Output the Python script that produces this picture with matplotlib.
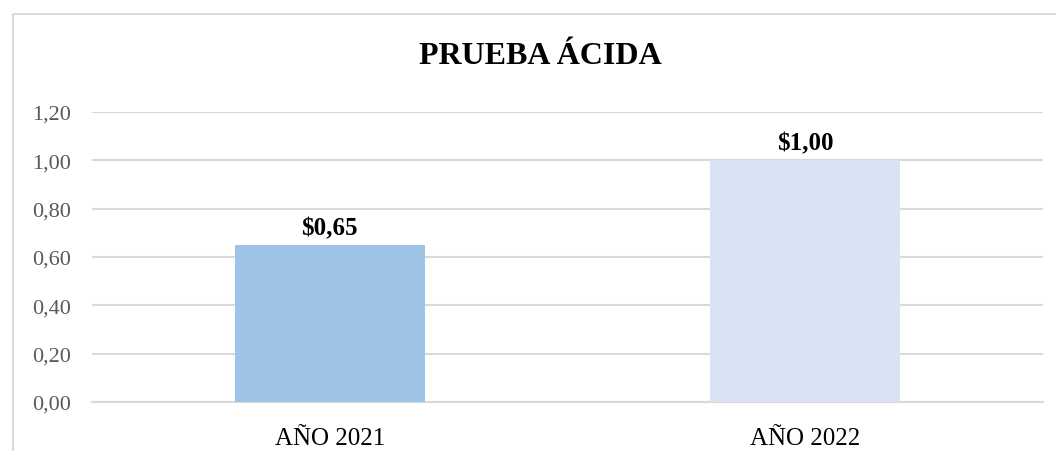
import matplotlib.pyplot as plt
from matplotlib.lines import Line2D
from matplotlib.ticker import FuncFormatter

categories = ['AÑO 2021', 'AÑO 2022']
values = [0.65, 1.00]
bar_colors = ['#9dc3e6', '#dae3f3']
yticks = [0.0, 0.2, 0.4, 0.6, 0.8, 1.0, 1.2]

plt.rcParams['font.family'] = ['Liberation Serif', 'DejaVu Serif']

fig = plt.figure(figsize=(10.56, 4.52), dpi=100)
ax = fig.add_axes([92 / 1056, 1 - 403 / 452, (1043 - 92) / 1056, (403 - 113) / 452])

x = range(len(categories))
ax.bar(x, values, width=0.40, color=bar_colors, zorder=3)
for i, v in enumerate(values):
    ax.text(i, v + 0.025, '$' + f'{v:.2f}'.replace('.', ','), ha='center', va='bottom',
            fontsize=18, fontweight='bold', color='black', zorder=4)

ax.set_xlim(-0.5, 1.5)
ax.set_ylim(0, 1.2)
ax.set_yticks(yticks)
ax.yaxis.set_major_formatter(FuncFormatter(lambda v, p: f'{v:.2f}'.replace('.', ',')))
ax.set_xticks(list(x))
ax.set_xticklabels(categories)
ax.tick_params(axis='y', length=0, labelsize=16, labelcolor='#595959', pad=15)
ax.tick_params(axis='x', length=0, labelsize=18, labelcolor='black', pad=18)
ax.grid(axis='y', color='#d9d9d9', linewidth=1.5, zorder=0)
ax.set_axisbelow(True)
for s in ['top', 'right', 'left']:
    ax.spines[s].set_visible(False)
ax.spines['bottom'].set_color('#d9d9d9')
ax.spines['bottom'].set_linewidth(1.5)

fig.text(540 / 1056, 1 - 56 / 452, 'PRUEBA ÁCIDA', ha='center', va='center',
         fontsize=23, fontweight='bold', color='black')

# chart frame (left and top edges visible)
fig.add_artist(Line2D([12.5 / 1056, 12.5 / 1056, 1.0], [0.0, 1 - 14.5 / 452, 1 - 14.5 / 452],
                      transform=fig.transFigure, color='#d9d9d9', linewidth=1.5))

fig.savefig('out.png', dpi=100)
